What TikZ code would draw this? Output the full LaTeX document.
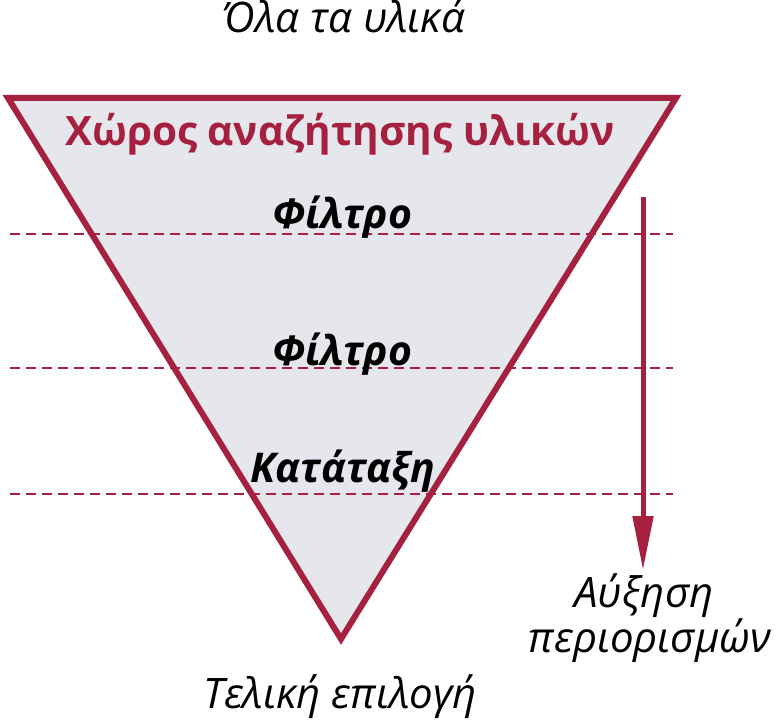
\documentclass[tikz,border=0pt]{standalone}
\usepackage{fontspec}
\setmainfont{Open Sans}
\usetikzlibrary{arrows.meta}
\definecolor{crim}{HTML}{A5213F}
\definecolor{fillg}{HTML}{E6E7EC}
\tikzset{
  lbl/.style={inner sep=0pt, font=\fontsize{42}{46}\selectfont\itshape},
  boldlbl/.style={inner sep=0pt, font=\fontsize{41}{46}\selectfont\bfseries\itshape},
  dashln/.style={crim, line width=2pt, dash pattern=on 10pt off 6pt},
}
\begin{document}
\begin{tikzpicture}[x=1pt,y=-1pt]
\useasboundingbox (0,0) rectangle (776,722);
\coordinate (tl) at (8,98);
\coordinate (tr) at (676,98);
\coordinate (ap) at (341,639);
\filldraw[fill=fillg, draw=crim, line width=6pt, line join=miter] (tl) -- (tr) -- (ap) -- cycle;
\foreach \yy/\nm in {234/d1,368/d2,494/d3}{
  \coordinate (\nm a) at (10,\yy);
  \coordinate (\nm b) at (673,\yy);
  \draw[dashln] (\nm a) -- (\nm b);
}
\node[lbl, anchor=base] (top) at (344,33) {Όλα τα υλικά};
\node[inner sep=0pt, anchor=base, text=crim, font=\fontsize{40.5}{46}\selectfont\bfseries] (space) at (340,146) {Χώρος αναζήτησης υλικών};
\node[boldlbl, anchor=base] (f1) at (342,229) {Φίλτρο};
\node[boldlbl, anchor=base] (f2) at (342,365) {Φίλτρο};
\node[boldlbl, anchor=base] (k) at (343,482) {Κατάταξη};
\node[lbl, anchor=base] (a1) at (644,607) {Αύξηση};
\node[lbl, anchor=base] (a2) at (650,652) {περιορισμών};
\node[lbl, anchor=base] (fin) at (340,708) {Τελική επιλογή};
\coordinate (as) at (643,197);
\coordinate (ae) at (643,570);
\draw[crim, line width=5pt, -{Triangle[length=54pt,width=20pt]}] (as) -- (ae);
\end{tikzpicture}
\end{document}
